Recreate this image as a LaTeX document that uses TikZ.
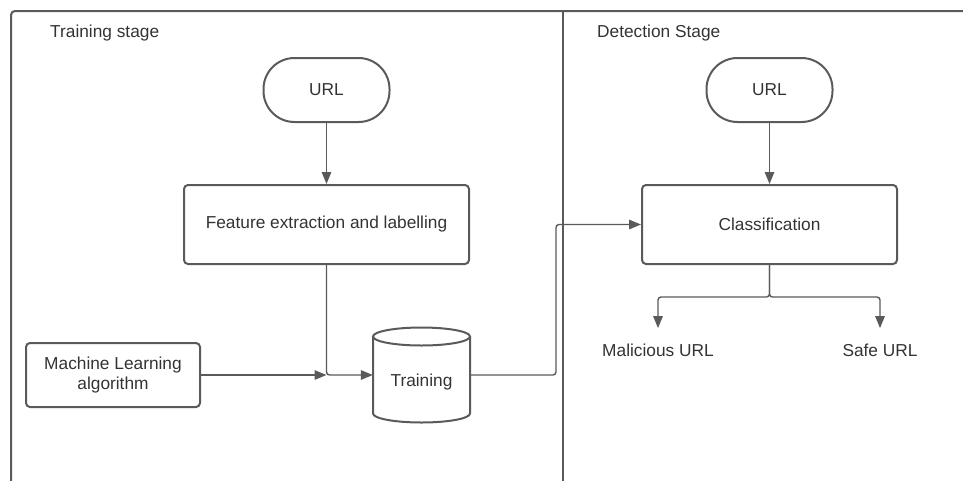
\documentclass[tikz,border=0pt]{standalone}
\usepackage{fontspec}
\setmainfont{Liberation Sans}
\usetikzlibrary{arrows.meta}
\definecolor{linegray}{HTML}{5A5A5A}
\definecolor{textgray}{HTML}{333333}

\begin{document}
\begin{tikzpicture}[x=1pt,y=-1pt,
  every node/.style={font=\fontsize{17.3}{20}\selectfont, text=textgray},
  box/.style={draw=linegray, line width=2pt, rounded corners=4pt, align=center, inner sep=0pt},
  pill/.style={box, rounded corners=31pt, minimum width=126pt, minimum height=64pt},
  conn/.style={draw=linegray, line width=1.4pt, rounded corners=3pt, -{Triangle[length=12pt,width=9.5pt]}},
  cylline/.style={draw=linegray, line width=2pt},
  frame/.style={draw=linegray, line width=2pt},
  title/.style={anchor=west, inner sep=0pt}]

\useasboundingbox (0,0) rectangle (963,480);

% outer frame and stage divider
\begin{scope}
  \clip (0,0) rectangle (963,480);
  \draw[frame, rounded corners=4pt] (11,495) -- (11,11) -- (980,11);
  \draw[frame] (563,11) -- (563,495);
\end{scope}

% stage titles
\node[title] (trainlabel) at (50,33) {Training stage};
\node[title] (detectlabel) at (597,33) {Detection Stage};

% training stage
\node[pill] (url1) at (326.5,90) {URL};
\node[box, minimum width=285pt, minimum height=79pt] (feat) at (326.5,224.5) {Feature extraction and labelling};
\node[box, minimum width=174pt, minimum height=64pt] (ml) at (113,375) {Machine Learning\\algorithm};

% database cylinder
\node[minimum width=97pt, minimum height=95pt, inner sep=0pt] (cyl) at (421.5,375) {};
\draw[cylline] (373,336.5) -- (373,413.5)
  arc[start angle=180, end angle=0, x radius=48.5, y radius=9] -- (470,336.5);
\draw[cylline] (421.5,336.5) ellipse[x radius=48.5, y radius=9];
\node (cyltext) at (421.5,382) {Training};

% detection stage
\node[pill] (url2) at (769.5,90) {URL};
\node[box, minimum width=255pt, minimum height=79pt] (class) at (769.5,224.5) {Classification};
\node (mal) at (658,350) {Malicious URL};
\node (safe) at (880,350) {Safe URL};

% connectors
\coordinate (join) at (326.5,375);
\coordinate (riser) at (556,300);
\coordinate (split) at (769.5,297);

\draw[conn] (url1.south) -- (feat.north);
\draw[conn] (feat.south) |- (cyl.west);
\draw[conn] (ml.east) -- (join);
\draw[conn] (cyl.east) -| (riser) |- (class.west);
\draw[conn] (url2.south) -- (class.north);
\draw[conn, shorten >=12pt] (class.south) -- (split) -| (mal.north);
\draw[conn, shorten >=12pt] (class.south) -- (split) -| (safe.north);
\end{tikzpicture}
\end{document}
